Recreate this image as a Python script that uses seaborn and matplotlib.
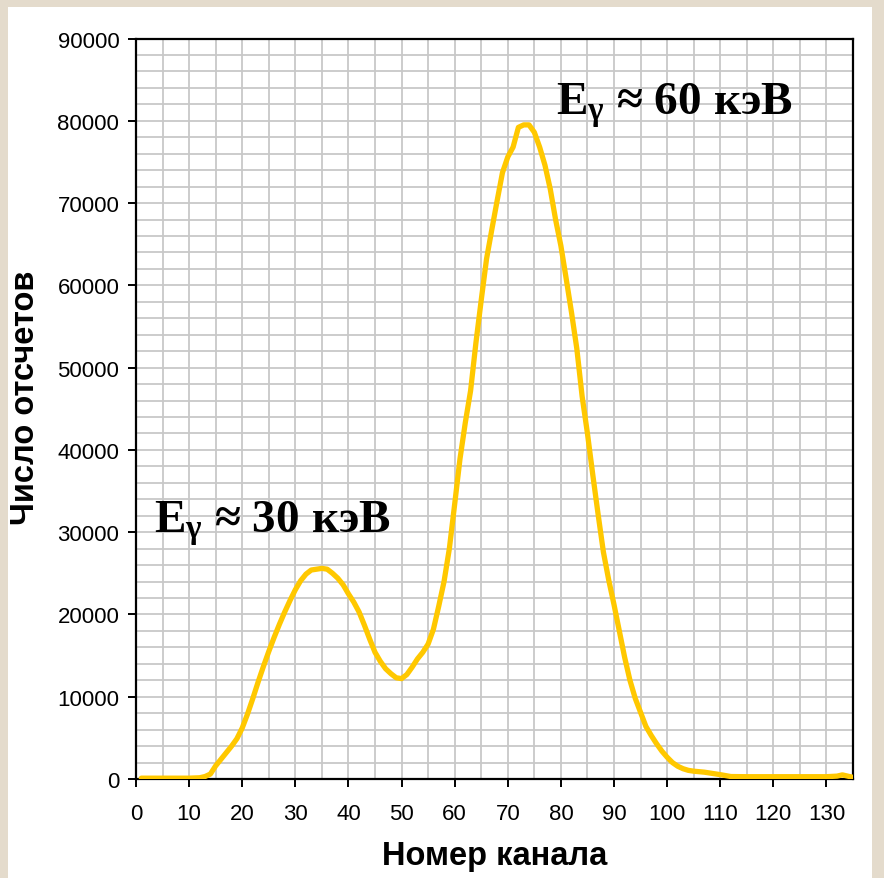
import matplotlib
matplotlib.use("Agg")
import matplotlib.pyplot as plt
import seaborn as sns
import pandas as pd
from matplotlib.patches import Rectangle
from matplotlib.ticker import MultipleLocator

channels = [1, 5, 10, 12, 13, 14, 15, 16, 17, 18, 19, 20, 21, 22, 23, 24, 25, 26, 27, 28,
            29, 30, 31, 32, 33, 34, 35, 36, 37, 38, 39, 40, 41, 42, 43, 44, 45, 46, 47, 48,
            49, 50, 51, 52, 53, 54, 55, 56, 57, 58, 59, 60, 61, 62, 63, 64, 65, 66, 67, 68,
            69, 70, 71, 72, 73, 74, 75, 76, 77, 78, 79, 80, 81, 82, 83, 84, 85, 86, 87, 88,
            89, 90, 91, 92, 93, 94, 95, 96, 97, 98, 99, 100, 101, 102, 103, 104, 105, 107,
            110, 112, 115, 120, 125, 130, 132, 133, 134, 135]
counts = [100, 100, 100, 150, 300, 600, 1600, 2400, 3200, 4000, 4900, 6200, 7900, 9800,
          11800, 13700, 15500, 17200, 18800, 20300, 21700, 23000, 24100, 24900, 25400,
          25500, 25600, 25500, 25000, 24400, 23600, 22500, 21500, 20300, 18700, 17000,
          15400, 14300, 13400, 12800, 12300, 12200, 12700, 13600, 14600, 15400, 16400,
          18200, 21000, 24000, 28000, 33400, 38900, 43300, 47200, 53000, 58200, 63200,
          66800, 70300, 73700, 75600, 76800, 79200, 79500, 79500, 78600, 76800, 74600,
          71700, 68000, 64800, 60800, 56700, 52300, 46500, 42000, 37000, 32200, 27600,
          24200, 21200, 18000, 14800, 12000, 9800, 8100, 6400, 5300, 4300, 3400, 2650,
          2000, 1550, 1250, 1050, 950, 830, 530, 300, 280, 280, 280, 280, 350, 500, 350, 200]

x_ticks = list(range(0, 131, 10))
y_ticks = list(range(0, 90001, 10000))
x_label = "Номер канала"
y_label = "Число отсчетов"
note_low = "E$_\\gamma$ ≈ 30 кэВ"
note_high = "E$_\\gamma$ ≈ 60 кэВ"

df = pd.DataFrame({"channel": channels, "counts": counts})

sns.set_theme(style="white")
plt.rcParams["font.family"] = ["Liberation Sans", "DejaVu Sans"]
plt.rcParams["mathtext.fontset"] = "custom"
plt.rcParams["mathtext.rm"] = "Liberation Serif:bold"
plt.rcParams["mathtext.it"] = "Liberation Serif:bold"
plt.rcParams["mathtext.bf"] = "Liberation Serif:bold"
plt.rcParams["mathtext.default"] = "rm"

fig = plt.figure(figsize=(8.84, 8.79), dpi=100, facecolor="#E4DBCC")
fig.patches.append(Rectangle((8 / 884, 0), (872 - 8) / 884, (879 - 8) / 879,
                             transform=fig.transFigure, facecolor="white",
                             edgecolor="none", zorder=-10))
ax = fig.add_axes([136 / 884, 1 - 780 / 879, (853 - 136) / 884, (780 - 39.5) / 879])
ax.set_zorder(5)
ax.set_facecolor("white")

sns.lineplot(data=df, x="channel", y="counts", ax=ax, color="#FFC800",
             linewidth=3.8, zorder=3)

ax.set_xlim(0, 135)
ax.set_ylim(0, 90000)
ax.set_xticks(x_ticks)
ax.set_yticks(y_ticks)
ax.xaxis.set_minor_locator(MultipleLocator(5))
ax.yaxis.set_minor_locator(MultipleLocator(2000))
ax.grid(which="both", color="#C8C8C8", linewidth=1.3, zorder=0)
ax.set_axisbelow(True)
for s in ax.spines.values():
    s.set_color("black")
    s.set_linewidth(1.6)
    s.set_visible(True)
ax.tick_params(which="major", direction="out", length=6, width=1.4, color="black",
               labelsize=16, pad=6, bottom=True, left=True)
ax.tick_params(which="minor", length=0)
ax.tick_params(axis="x", pad=11)
for lab in ax.get_xticklabels() + ax.get_yticklabels():
    lab.set_color("black")

ax.set_xlabel(x_label, fontsize=23.5, fontweight="bold", color="black", labelpad=12)
ax.set_ylabel(y_label, fontsize=23.5, fontweight="bold", color="black")
ax.yaxis.set_label_coords(-0.133, 0.516)

ax.text(3.4, 30000, note_low, fontsize=34, fontweight="bold", color="black",
        family=["Liberation Serif", "DejaVu Serif"], zorder=4)
ax.text(79, 80800, note_high, fontsize=34, fontweight="bold", color="black",
        family=["Liberation Serif", "DejaVu Serif"], zorder=4)

fig.savefig("out.png", dpi=100, facecolor=fig.get_facecolor())
